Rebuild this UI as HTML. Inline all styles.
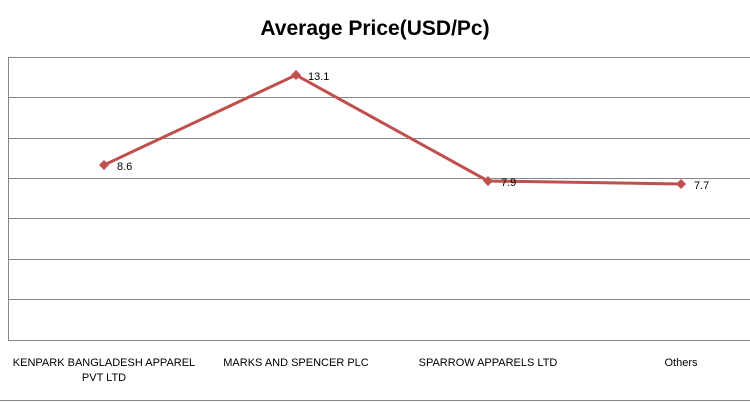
<!DOCTYPE html><html><head><style>body{margin:0;background:#fff}svg{display:block}</style></head><body>
<svg width="750" height="402" xmlns="http://www.w3.org/2000/svg" font-family="Liberation Sans, sans-serif">
<rect width="750" height="402" fill="#fff"/>
<text x="375" y="35" text-anchor="middle" font-size="21" font-weight="bold">Average Price(USD/Pc)</text>
<g stroke="#868686" stroke-width="1">
<line x1="8" y1="57.5" x2="750" y2="57.5"/><line x1="8" y1="97.5" x2="750" y2="97.5"/>
<line x1="8" y1="138.5" x2="750" y2="138.5"/><line x1="8" y1="178.5" x2="750" y2="178.5"/>
<line x1="8" y1="218.5" x2="750" y2="218.5"/><line x1="8" y1="259.5" x2="750" y2="259.5"/>
<line x1="8" y1="299.5" x2="750" y2="299.5"/><line x1="8" y1="340.5" x2="750" y2="340.5"/>
<line x1="8.5" y1="57" x2="8.5" y2="340"/>
<line x1="0" y1="400.5" x2="750" y2="400.5"/>
</g>
<polyline points="104,165 296,75 488,181 681,184" fill="none" stroke="#c0504d" stroke-width="3"/>
<g fill="#c0504d">
<path d="M104,160 l5,5 -5,5 -5,-5z"/><path d="M296,70 l5,5 -5,5 -5,-5z"/>
<path d="M488,176 l5,5 -5,5 -5,-5z"/><path d="M681,179 l5,5 -5,5 -5,-5z"/>
</g>
<g font-size="11" fill="#000">
<text x="117" y="170">8.6</text><text x="308" y="80">13.1</text>
<text x="501" y="186">7.9</text><text x="694" y="189">7.7</text>
</g>
<g font-size="11" fill="#000" text-anchor="middle">
<text x="104" y="366">KENPARK BANGLADESH APPAREL</text><text x="104" y="381">PVT LTD</text>
<text x="296" y="366">MARKS AND SPENCER  PLC</text>
<text x="488" y="366">SPARROW APPARELS LTD</text>
<text x="681" y="366">Others</text>
</g>
</svg></body></html>
